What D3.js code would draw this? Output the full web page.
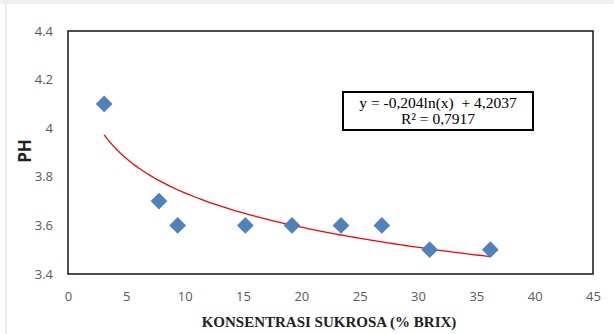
<!DOCTYPE html>
<html lang="en">
<head>
  <meta charset="UTF-8">
  <title>pH vs sukrosa</title>
  <style>
  body { margin: 0; background: #fff; }
  #chart { width: 614px; height: 334px; }
  </style>
</head>
<body>
  <div id="chart"></div>
  <script src="https://cdn.jsdelivr.net/npm/d3@7"></script>
  <script>

// data
const brix = [3.1, 7.8, 9.4, 15.2, 19.2, 23.4, 26.9, 31.0, 36.2]
const ph   = [4.1, 3.7, 3.6, 3.6, 3.6, 3.6, 3.6, 3.5, 3.5]
const xTicks = [0, 5, 10, 15, 20, 25, 30, 35, 40, 45]
const yTicks = [3.4, 3.6, 3.8, 4, 4.2, 4.4]
const yTickLabels = ['3.4', '3.6', '3.8', '4', '4.2', '4.4']
// log trendline coefficients as printed on the chart
const trendA = -0.204, trendB = 4.2037
const eqLines = ['y = -0,204ln(x)  + 4,2037', 'R² = 0,7917']

const W = 614, H = 334
const m = {left: 68, right: 21, top: 31, bottom: 60}

const svg = d3.select('#chart').append('svg')
  .attr('width', W).attr('height', H)

// faint outer chart frame (only top and left show)
svg.append('rect').attr('x', 0).attr('y', 0).attr('width', W).attr('height', 4).attr('fill', '#f0f0f0')
svg.append('rect').attr('x', 5).attr('y', 0).attr('width', 2).attr('height', H).attr('fill', '#ececec')

const x = d3.scaleLinear().domain([0, 45]).range([m.left, W - m.right])
const y = d3.scaleLinear().domain([3.4, 4.4]).range([H - m.bottom, m.top])

// axes with labels only
const xAxis = d3.axisBottom(x).tickValues(xTicks).tickSize(0).tickPadding(18)
const yAxis = d3.axisLeft(y).tickValues(yTicks).tickSize(0).tickPadding(15)
  .tickFormat((d, i) => yTickLabels[i])

const gx = svg.append('g').attr('transform', `translate(0,${H - m.bottom})`).call(xAxis)
const gy = svg.append('g').attr('transform', `translate(${m.left},0)`).call(yAxis)
gx.select('.domain').remove()
gy.select('.domain').remove()
svg.selectAll('.tick text')
  .attr('fill', '#595959')
  .style('font-family', '"Open Sans", "Liberation Sans", sans-serif')
  .style('font-size', '13px')

// plot area border
svg.append('rect')
  .attr('x', x(0)).attr('y', y(4.4))
  .attr('width', x(45) - x(0)).attr('height', y(3.4) - y(4.4))
  .attr('fill', 'none').attr('stroke', '#222').attr('stroke-width', 1.6)

// trendline
const lo = d3.min(brix), hi = d3.max(brix)
const trend = d3.range(0, 101).map(i => {
  const xv = lo + (hi - lo) * i / 100
  return [xv, trendA * Math.log(xv) + trendB]
})
svg.append('path')
  .datum(trend)
  .attr('d', d3.line().x(d => x(d[0])).y(d => y(d[1])))
  .attr('fill', 'none').attr('stroke', '#ff0000').attr('stroke-width', 1.3)

// markers
const diamond = d3.symbol().type(d3.symbolSquare).size(140)
svg.append('g').selectAll('path')
  .data(brix.map((b, i) => [b, ph[i]]))
  .join('path')
  .attr('d', diamond)
  .attr('transform', d => `translate(${x(d[0])},${y(d[1])}) rotate(45)`)
  .attr('fill', '#4f81bd')

// equation box
const box = svg.append('g').attr('transform', 'translate(343,92)')
box.append('rect').attr('width', 190).attr('height', 38)
  .attr('fill', '#fff').attr('stroke', '#000').attr('stroke-width', 2)
box.selectAll('text').data(eqLines).join('text')
  .attr('x', 95).attr('y', (d, i) => 16 + i * 16)
  .attr('text-anchor', 'middle')
  .style('white-space', 'pre')
  .style('font-family', '"Liberation Serif", "Times New Roman", serif')
  .style('font-size', '15.5px')
  .attr('fill', '#000')
  .text(d => d)

// axis titles
svg.append('text')
  .attr('x', 329).attr('y', 327)
  .attr('text-anchor', 'middle')
  .style('font-family', '"Liberation Serif", "Times New Roman", serif')
  .style('font-size', '15px').style('font-weight', 'bold')
  .attr('fill', '#222')
  .text('KONSENTRASI SUKROSA (% BRIX)')

svg.append('text')
  .attr('transform', 'translate(31,151) rotate(-90)')
  .attr('text-anchor', 'middle')
  .style('font-family', '"Open Sans", "Liberation Sans", sans-serif')
  .style('font-size', '17px').style('font-weight', 'bold')
  .attr('fill', '#222')
  .text('PH')

  </script>
</body>
</html>
